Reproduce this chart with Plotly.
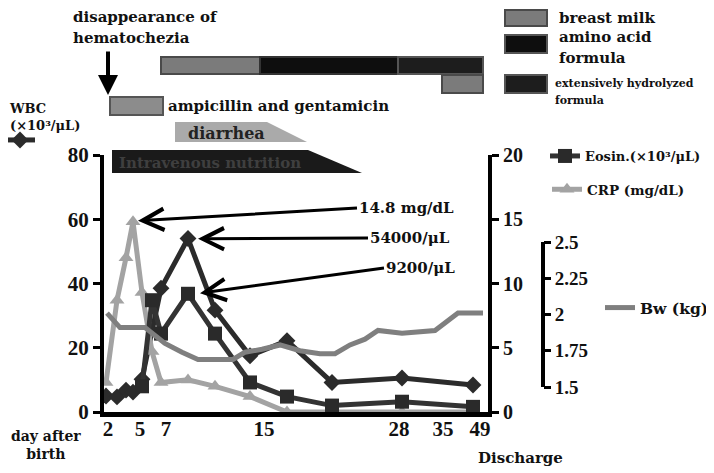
import plotly.graph_objects as go

# ---------------- data ----------------
# sample positions along the (non-uniform) time axis, in axis units
pos = [0.2, 1.3, 2.2, 2.9, 3.8, 4.8, 5.7, 8.4, 11.1, 14.6, 18.3, 22.8, 29.8, 36.9]
wbc = [5.0, 4.7, 6.8, 6.2, 10.2, None, 38.5, 54.0, 31.7, 17.5, 22.2, 9.2, 10.6, 8.4]
eosin = [None, None, None, None, 2.0, 8.7, 6.1, 9.2, 6.1, 2.3, 1.2, 0.5, 0.8, 0.4]
crp = [2.3, 8.7, 12.0, 14.8, 9.3, 4.7, 2.3, 2.5, 2.0, 1.2, 0.0, 0.0, 0.0, 0.0]

bw_pos = [0.3, 1.6, 4.1, 6.1, 7.8, 9.4, 11.3, 12.9, 14.1, 15.8, 17.6, 19.6, 21.6,
          23.1, 24.6, 26.1, 27.4, 29.8, 33.1, 35.4, 37.9]
bw = [2.01, 1.91, 1.91, 1.80, 1.74, 1.69, 1.69, 1.69, 1.74, 1.76, 1.79, 1.75, 1.73,
      1.73, 1.79, 1.83, 1.89, 1.87, 1.89, 2.01, 2.01]
bw_ticks = [1.5, 1.75, 2.0, 2.25, 2.5]

day_tick_pos = [0.4, 3.6, 6.2, 16.0, 29.5, 33.9, 37.6]
day_tick_labels = ["2", "5", "7", "15", "28", "35", "49"]

# timeline (start, end) in axis units
breast_milk_1 = [5.7, 15.6]
amino_acid = [15.6, 29.4]
ext_hydrolyzed = [29.4, 37.9]
breast_milk_2 = [33.8, 37.9]
ampicillin = [0.6, 5.9]
diarrhea = [7.1, 16.3, 20.3]        # start, top-right, bottom-right
iv_nutrition = [0.8, 20.4, 25.8]    # start, top-right, bottom-right
hematochezia_pos = 0.4

# callouts: (text, series position, value on left-axis scale)
callouts = [("14.8 mg/dL", 3.4, 59.5), ("54000/μL", 9.4, 53.9), ("9200/μL", 9.6, 37.0)]

# ---------------- geometry (screen pixels -> figure/paper) ----------------
OFF = 8                      # page body margin offsets the figure in the window
W, H = 714, 473
PLOT_L, PLOT_R, PLOT_T, PLOT_B = 104, 488, 155, 412    # plot area on screen
ML = PLOT_L - OFF
MT = PLOT_T - OFF
MB = H - (PLOT_B - OFF)
MR = 14
PW, PH = W - ML - MR, H - MT - MB
X_LEN = PLOT_R - PLOT_L
X_UNITS = 38.4


def px(x):
    return (x - OFF - ML) / PW


def py(y):
    return (PLOT_B - y) / PH


NUM = "Liberation Serif"
TXT = "DejaVu Serif"
DARK = "#2b2b2b"

# Bw scale: 1.5 kg at screen y 387, 2.5 kg at 242 -> extend to full plot height
bw_per_px = 1.0 / (387 - 242)
bw_range = [1.5 - (PLOT_B - 387) * bw_per_px, 2.5 + (242 - PLOT_T) * bw_per_px]

fig = go.Figure()

fig.add_trace(go.Scatter(x=bw_pos, y=bw, yaxis="y3", mode="lines",
                         line=dict(color="#7f7f7f", width=5), name="Bw (kg)",
                         legend="legend4"))
fig.add_trace(go.Scatter(x=pos, y=crp, yaxis="y2", mode="lines+markers",
                         line=dict(color="#a3a3a3", width=5),
                         marker=dict(symbol="triangle-up", size=13, color="#a3a3a3"),
                         name="CRP (mg/dL)", legend="legend3"))
fig.add_trace(go.Scatter(x=pos, y=eosin, yaxis="y2", mode="lines+markers",
                         line=dict(color="#333333", width=5),
                         marker=dict(symbol="square", size=14, color="#2a2a2a"),
                         name="Eosin.(×10³/μL)", legend="legend2"))
fig.add_trace(go.Scatter(x=pos, y=wbc, mode="lines+markers", connectgaps=True,
                         line=dict(color=DARK, width=5),
                         marker=dict(symbol="diamond", size=13, color=DARK),
                         name=" ", legend="legend"))

axis_common = dict(showgrid=False, zeroline=False, showline=True, linecolor="black",
                   linewidth=4, ticks="outside", ticklen=7, tickwidth=3,
                   tickcolor="black")

fig.update_layout(
    width=W, height=H,
    margin=dict(l=ML, r=MR, t=MT, b=MB, autoexpand=False),
    paper_bgcolor="white", plot_bgcolor="white", showlegend=True,
    font=dict(family=TXT, color="#111111", size=15, weight="bold"),
    xaxis=dict(domain=[0, X_LEN / PW], range=[0, X_UNITS], showgrid=False,
               zeroline=False, showline=True, linecolor="black", linewidth=5,
               ticks="", ticklen=0, ticklabelstandoff=-6,
               tickvals=day_tick_pos, ticktext=day_tick_labels,
               tickfont=dict(size=21, family=NUM, weight="bold")),
    yaxis=dict(range=[0, 80], dtick=20,
               tickfont=dict(size=21, family=NUM, weight="bold"), **axis_common),
    yaxis2=dict(range=[0, 20], dtick=5, overlaying="y", side="right",
                tickfont=dict(size=20, family=NUM, weight="bold"), **axis_common),
    yaxis3=dict(range=bw_range, tickvals=bw_ticks, overlaying="y", anchor="free",
                position=px(543), side="right", showgrid=False, zeroline=False,
                showline=False, ticks="outside", ticklen=7, tickwidth=3,
                tickcolor="black",
                tickfont=dict(size=19, family=NUM, weight="bold")),
    legend=dict(x=px(0), y=py(125), xanchor="left", yanchor="top",
                bgcolor="rgba(0,0,0,0)", font=dict(size=13)),
    legend2=dict(x=px(545), y=py(141), xanchor="left", yanchor="top",
                 bgcolor="rgba(0,0,0,0)", font=dict(size=13)),
    legend3=dict(x=px(547), y=py(174), xanchor="left", yanchor="top",
                 bgcolor="rgba(0,0,0,0)", font=dict(size=13.5)),
    legend4=dict(x=px(600), y=py(291), xanchor="left", yanchor="top",
                 bgcolor="rgba(0,0,0,0)", font=dict(size=15.5)),
)

shapes = []


def rect_x(x0, x1, y0, y1, fill, line="#4a4a4a", lw=2):
    shapes.append(dict(type="rect", xref="x", yref="paper", x0=x0, x1=x1,
                       y0=py(y1), y1=py(y0), fillcolor=fill,
                       line=dict(color=line, width=lw)))


def rect_p(x0, x1, y0, y1, fill, line="#4a4a4a", lw=2):
    shapes.append(dict(type="rect", xref="paper", yref="paper", x0=px(x0), x1=px(x1),
                       y0=py(y1), y1=py(y0), fillcolor=fill,
                       line=dict(color=line, width=lw)))


# Bw axis spine (only between 1.5 and 2.5 kg)
shapes.append(dict(type="line", xref="paper", yref="y3", x0=px(543), x1=px(543),
                   y0=bw_ticks[0], y1=bw_ticks[-1], line=dict(color="black", width=4)))
# feeding bars
rect_x(breast_milk_1[0], breast_milk_1[1], 57, 74, "#7b7b7b")
rect_x(amino_acid[0], amino_acid[1], 57, 74, "#0e0e0e", "#333333")
rect_x(ext_hydrolyzed[0], ext_hydrolyzed[1], 57, 74, "#1d1d1d", "#555555")
rect_x(breast_milk_2[0], breast_milk_2[1], 75, 93, "#7b7b7b")
# ampicillin
rect_x(ampicillin[0], ampicillin[1], 97, 115, "#8c8c8c", "#555555")
# diarrhea trapezoid
shapes.append(dict(type="path", xref="x", yref="paper",
                   path=f"M{diarrhea[0]},{py(122)} L{diarrhea[1]},{py(122)} "
                        f"L{diarrhea[2]},{py(142)} L{diarrhea[0]},{py(142)} Z",
                   fillcolor="#aaaaaa", line=dict(width=0)))
# intravenous nutrition trapezoid
shapes.append(dict(type="path", xref="x", yref="paper",
                   path=f"M{iv_nutrition[0]},{py(150)} L{iv_nutrition[1]},{py(150)} "
                        f"L{iv_nutrition[2]},{py(173)} L{iv_nutrition[0]},{py(173)} Z",
                   fillcolor="#1a1a1a", line=dict(width=0)))
# feeding key boxes
rect_p(505, 547, 10, 26, "#7b7b7b")
rect_p(505, 547, 35, 53, "#0e0e0e", "#555555")
rect_p(505, 547, 75, 93, "#1d1d1d", "#555555")
fig.update_layout(shapes=shapes)

ann = []


def text(t, x, y, size=15, anchor="left", color="#111111", yanchor="middle",
         align="left"):
    ann.append(dict(text=t, x=px(x), y=py(y), xref="paper", yref="paper",
                    xanchor=anchor, yanchor=yanchor, showarrow=False, align=align,
                    font=dict(size=size, color=color, family=TXT, weight="bold")))


text("disappearance of", 71, 17, size=15)
text("hematochezia", 71, 38, size=15)
text("ampicillin and gentamicin", 166, 106, size=15)
text("diarrhea", 226, 133, size=16, anchor="center", color="#222222")
text("Intravenous nutrition", 117, 163, size=15, color="#3f3f3f")
text("breast milk", 557, 18, size=15)
text("amino acid", 557, 37, size=15)
text("formula", 557, 58, size=15)
text("extensively hydrolyzed", 553, 83, size=11)
text("formula", 553, 100, size=11)
text("WBC<br>(×10³/μL)", 7, 99, size=13, yanchor="top")
text("day after<br>birth", 46, 426, size=14, anchor="center", yanchor="top",
     align="center")
text("Discharge", 520, 458, size=15, anchor="center")

# hematochezia arrow
ann.append(dict(x=hematochezia_pos, y=py(95), xref="x", yref="paper", text="",
                showarrow=True, ax=0, ay=-45, arrowhead=2, arrowsize=1,
                arrowwidth=4, arrowcolor="black"))

# callout arrows (tails given in screen pixels)
tails = [(357, 208), (368, 238), (384, 268)]
for (t, xv, yv), (tx, ty) in zip(callouts, tails):
    tip_sx = PLOT_L + xv * X_LEN / X_UNITS
    tip_sy = PLOT_B - yv * (PLOT_B - PLOT_T) / 80
    ann.append(dict(x=xv, y=yv, xref="x", yref="y", text=t, showarrow=True,
                    ax=tx - tip_sx, ay=ty - tip_sy, xanchor="left",
                    arrowhead=5, arrowsize=1.4, arrowwidth=3, arrowcolor="black",
                    font=dict(size=15, family=TXT, weight="bold", color="#111111")))

fig.update_layout(annotations=ann)

fig.write_html("out.html")
